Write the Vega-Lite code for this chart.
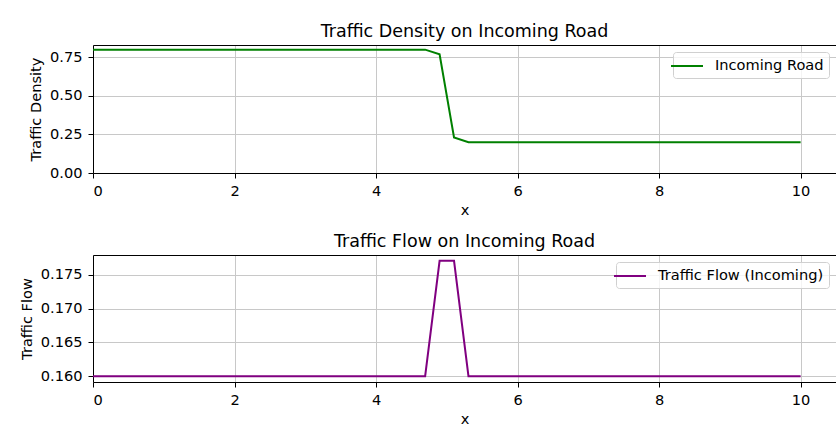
{
  "$schema": "https://vega.github.io/schema/vega-lite/v6.json",
  "background": "white",
  "padding": {"left": 19, "top": 23, "right": 0, "bottom": 0},
  "autosize": {"type": "pad"},
  "spacing": 15,
  "config": {
    "font": "DejaVu Sans",
    "view": {"stroke": null},
    "axis": {
      "labelFont": "DejaVu Sans", "labelFontSize": 14.6, "labelColor": "black",
      "titleFont": "DejaVu Sans", "titleFontSize": 14.6, "titleColor": "black", "titleFontWeight": "normal",
      "domainColor": "black", "domainWidth": 1, "tickColor": "black", "tickSize": 5, "tickWidth": 1,
      "gridColor": "#c8c8c8", "gridWidth": 1, "titlePadding": 5
    },
    "axisX": {"labelPadding": 5},
    "axisY": {"labelPadding": 6, "titlePadding": 6},
    "title": {"font": "DejaVu Sans", "fontSize": 17.5, "fontWeight": "normal", "color": "black", "offset": 4.5},
    "legend": {
      "labelFont": "DejaVu Sans", "labelFontSize": 14.6, "labelColor": "black", "labelLimit": 400,
      "strokeColor": "#d0d0d0", "fillColor": "rgba(255,255,255,0.8)", "cornerRadius": 3,
      "padding": 5, "symbolType": "M-2,0H2", "symbolSize": 256, "symbolStrokeWidth": 2, "labelOffset": 19
    }
  },
  "data": {"values": [
    {"x": 0, "density": 0.8, "flow": 0.16},
    {"x": 0.2041, "density": 0.8, "flow": 0.16},
    {"x": 0.4082, "density": 0.8, "flow": 0.16},
    {"x": 0.6122, "density": 0.8, "flow": 0.16},
    {"x": 0.8163, "density": 0.8, "flow": 0.16},
    {"x": 1.0204, "density": 0.8, "flow": 0.16},
    {"x": 1.2245, "density": 0.8, "flow": 0.16},
    {"x": 1.4286, "density": 0.8, "flow": 0.16},
    {"x": 1.6327, "density": 0.8, "flow": 0.16},
    {"x": 1.8367, "density": 0.8, "flow": 0.16},
    {"x": 2.0408, "density": 0.8, "flow": 0.16},
    {"x": 2.2449, "density": 0.8, "flow": 0.16},
    {"x": 2.449, "density": 0.8, "flow": 0.16},
    {"x": 2.6531, "density": 0.8, "flow": 0.16},
    {"x": 2.8571, "density": 0.8, "flow": 0.16},
    {"x": 3.0612, "density": 0.8, "flow": 0.16},
    {"x": 3.2653, "density": 0.8, "flow": 0.16},
    {"x": 3.4694, "density": 0.8, "flow": 0.16},
    {"x": 3.6735, "density": 0.8, "flow": 0.16},
    {"x": 3.8776, "density": 0.8, "flow": 0.16},
    {"x": 4.0816, "density": 0.8, "flow": 0.16},
    {"x": 4.2857, "density": 0.8, "flow": 0.16},
    {"x": 4.4898, "density": 0.8, "flow": 0.16},
    {"x": 4.6939, "density": 0.8, "flow": 0.16},
    {"x": 4.898, "density": 0.77, "flow": 0.1771},
    {"x": 5.102, "density": 0.23, "flow": 0.1771},
    {"x": 5.3061, "density": 0.2, "flow": 0.16},
    {"x": 5.5102, "density": 0.2, "flow": 0.16},
    {"x": 5.7143, "density": 0.2, "flow": 0.16},
    {"x": 5.9184, "density": 0.2, "flow": 0.16},
    {"x": 6.1224, "density": 0.2, "flow": 0.16},
    {"x": 6.3265, "density": 0.2, "flow": 0.16},
    {"x": 6.5306, "density": 0.2, "flow": 0.16},
    {"x": 6.7347, "density": 0.2, "flow": 0.16},
    {"x": 6.9388, "density": 0.2, "flow": 0.16},
    {"x": 7.1429, "density": 0.2, "flow": 0.16},
    {"x": 7.3469, "density": 0.2, "flow": 0.16},
    {"x": 7.551, "density": 0.2, "flow": 0.16},
    {"x": 7.7551, "density": 0.2, "flow": 0.16},
    {"x": 7.9592, "density": 0.2, "flow": 0.16},
    {"x": 8.1633, "density": 0.2, "flow": 0.16},
    {"x": 8.3673, "density": 0.2, "flow": 0.16},
    {"x": 8.5714, "density": 0.2, "flow": 0.16},
    {"x": 8.7755, "density": 0.2, "flow": 0.16},
    {"x": 8.9796, "density": 0.2, "flow": 0.16},
    {"x": 9.1837, "density": 0.2, "flow": 0.16},
    {"x": 9.3878, "density": 0.2, "flow": 0.16},
    {"x": 9.5918, "density": 0.2, "flow": 0.16},
    {"x": 9.7959, "density": 0.2, "flow": 0.16},
    {"x": 10, "density": 0.2, "flow": 0.16}
  ]},
  "resolve": {"scale": {"color": "independent"}, "legend": {"color": "independent"}},
  "vconcat": [
    {
      "width": 743, "height": 128,
      "title": "Traffic Density on Incoming Road",
      "resolve": {"axis": {"x": "independent"}},
      "encoding": {
        "y": {"field": "density", "type": "quantitative", "title": "Traffic Density",
              "scale": {"domain": [0, 0.83], "nice": false},
              "axis": {"values": [0, 0.25, 0.5, 0.75], "format": ".2f"}}
      },
      "layer": [
        {
          "mark": {"type": "line", "strokeWidth": 2, "clip": true},
          "encoding": {
            "x": {"field": "x", "type": "quantitative", "title": "x",
                  "scale": {"domain": [0, 10.5], "nice": false, "zero": false},
                  "axis": {"values": [0, 2, 4, 6, 8, 10], "format": "d"}},
            "color": {"datum": "Incoming Road", "type": "nominal",
                      "scale": {"domain": ["Incoming Road"], "range": ["#008000"]},
                      "legend": {"title": null, "orient": "top-right", "offset": 7}}
          }
        },
        {
          "mark": {"type": "line", "strokeOpacity": 0, "clip": true},
          "encoding": {
            "x": {"field": "x", "type": "quantitative",
                  "scale": {"domain": [0, 10.5], "nice": false, "zero": false},
                  "axis": {"orient": "top", "title": null, "labels": false, "ticks": false, "grid": false}}
          }
        }
      ]
    },
    {
      "width": 743, "height": 127,
      "title": "Traffic Flow on Incoming Road",
      "resolve": {"axis": {"x": "independent"}},
      "encoding": {
        "y": {"field": "flow", "type": "quantitative", "title": "Traffic Flow",
              "scale": {"domain": [0.15914, 0.17796], "nice": false, "zero": false},
              "axis": {"values": [0.16, 0.165, 0.17, 0.175], "format": ".3f"}}
      },
      "layer": [
        {
          "mark": {"type": "line", "strokeWidth": 2, "clip": true},
          "encoding": {
            "x": {"field": "x", "type": "quantitative", "title": "x",
                  "scale": {"domain": [0, 10.5], "nice": false, "zero": false},
                  "axis": {"values": [0, 2, 4, 6, 8, 10], "format": "d"}},
            "color": {"datum": "Traffic Flow (Incoming)", "type": "nominal",
                      "scale": {"domain": ["Traffic Flow (Incoming)"], "range": ["#800080"]},
                      "legend": {"title": null, "orient": "top-right", "offset": 7}}
          }
        },
        {
          "mark": {"type": "line", "strokeOpacity": 0, "clip": true},
          "encoding": {
            "x": {"field": "x", "type": "quantitative",
                  "scale": {"domain": [0, 10.5], "nice": false, "zero": false},
                  "axis": {"orient": "top", "title": null, "labels": false, "ticks": false, "grid": false}}
          }
        }
      ]
    }
  ]
}
